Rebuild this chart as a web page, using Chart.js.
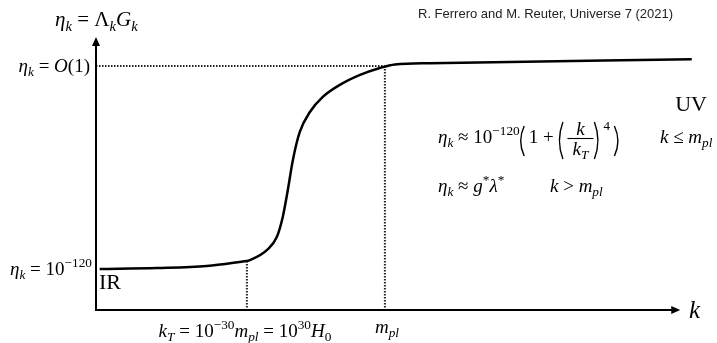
<!DOCTYPE html>
<html><head><meta charset="utf-8">
<script src="https://cdn.jsdelivr.net/npm/chart.js@4"></script>
<style>html,body{margin:0;padding:0;background:#fff}canvas{display:block}</style>
</head><body>
<canvas id="c" width="717" height="343"></canvas>
<script>
// Schematic: x = log10(k/H0), y = log10(eta_k)
const irK     = [-2.0, 10.4, 21.3, 30.0];
const irEta   = [-120.0, -119.4, -118.2, -115.2];
const riseK   = [30.0, 30.7, 34.4, 36.5, 37.8, 38.9, 40.0, 41.5, 43.7, 46.5, 50.2, 54.6, 58.9, 62.2, 69.8, 126.7];
const riseEta = [-115.2, -114.7, -108.7, -101.1, -89.2, -73.3, -55.6, -39.0, -27.2, -18.3, -11.2, -5.3, -1.2, 0.9, 1.6, 4.0];
const kT = 30, mPl = 60, etaIR = -120, etaUV = 0;
const xRange = [-2.8, 128.5];
const yRange = [-144.2, 17.1];
const kAxisEnd = 124.2;
const citation = 'R. Ferrero and M. Reuter, Universe 7 (2021)';

const SERIF = '"Liberation Serif","Times New Roman",serif';
function run(ctx, x, y, parts, size, dry) {
  let cx = x;
  for (const [t, k] of parts) {
    let s = size, yy = y, it = false;
    if (k === 'i') it = true;
    else if (k === '_') { it = true; s = size * 0.7; yy = y + size * 0.22; }
    else if (k === '_r') { s = size * 0.7; yy = y + size * 0.22; }
    else if (k === '^') { s = size * 0.7; yy = y - size * 0.42; }
    ctx.font = (it ? 'italic ' : '') + s + 'px ' + SERIF;
    if (!dry) ctx.fillText(t, cx, yy);
    cx += ctx.measureText(t).width;
  }
  return cx - x;
}
function mathText(ctx, x, y, parts, size, align) {
  const w = run(ctx, 0, 0, parts, size, true);
  const sx = align === 'right' ? x - w : align === 'center' ? x - w / 2 : x;
  run(ctx, sx, y, parts, size, false);
}
function paren(ctx, x, top, bot, open) {
  const w = 3.5;
  ctx.beginPath();
  if (open) { ctx.moveTo(x + w, top); ctx.quadraticCurveTo(x - w, (top + bot) / 2, x + w, bot); }
  else { ctx.moveTo(x, top); ctx.quadraticCurveTo(x + 2 * w, (top + bot) / 2, x, bot); }
  ctx.lineWidth = 1.4; ctx.stroke();
}

const decor = {
  id: 'decor',
  afterDraw(chart) {
    const { ctx, chartArea: a, scales: { x } } = chart;
    ctx.save();
    ctx.strokeStyle = '#000'; ctx.fillStyle = '#000';
    ctx.textAlign = 'left'; ctx.textBaseline = 'alphabetic';
    const x0 = a.left, y0 = a.bottom, xEnd = x.getPixelForValue(kAxisEnd), yTop = a.top;
    ctx.lineWidth = 2;
    ctx.beginPath();
    ctx.moveTo(x0, y0 + 1); ctx.lineTo(x0, yTop + 6);
    ctx.moveTo(x0 - 1, y0); ctx.lineTo(xEnd - 6, y0);
    ctx.stroke();
    ctx.beginPath();
    ctx.moveTo(x0, yTop); ctx.lineTo(x0 - 4, yTop + 9); ctx.lineTo(x0 + 4, yTop + 9); ctx.closePath(); ctx.fill();
    ctx.beginPath();
    ctx.moveTo(xEnd, y0); ctx.lineTo(xEnd - 9, y0 - 4); ctx.lineTo(xEnd - 9, y0 + 4); ctx.closePath(); ctx.fill();

    // labels
    mathText(ctx, 55, 26, [['η','i'],['k','_'],[' = Λ','r'],['k','_'],['G','i'],['k','_']], 21, 'left');
    mathText(ctx, 90, 72, [['η','i'],['k','_'],[' = ','r'],['O','i'],['(1)','r']], 19, 'right');
    mathText(ctx, 92, 275, [['η','i'],['k','_'],[' = 10','r'],['−120','^']], 19, 'right');
    mathText(ctx, 99, 289, [['IR','r']], 22, 'left');
    mathText(ctx, 707, 111, [['UV','r']], 22, 'right');
    mathText(ctx, 245, 337, [['k','i'],['T','_'],[' = 10','r'],['−30','^'],['m','i'],['pl','_'],[' = 10','r'],['30','^'],['H','i'],['0','_r']], 19, 'center');
    mathText(ctx, 387, 333, [['m','i'],['pl','_']], 19, 'center');
    mathText(ctx, 689, 318, [['k','i']], 25, 'left');

    // formula 1
    const S = 19; let b = 143; let cx = 438;
    cx += run(ctx, cx, b, [['η','i'],['k','_'],[' ≈ 10','r'],['−120','^']], S);
    paren(ctx, cx + 1, b - 17, b + 13, true); cx += 9;
    cx += run(ctx, cx, b, [['1 + ','r']], S);
    paren(ctx, cx + 1, b - 21, b + 16, true); cx += 9;
    const fw = 26, barY = b - 4.5;
    ctx.lineWidth = 1.1; ctx.beginPath(); ctx.moveTo(cx, barY); ctx.lineTo(cx + fw, barY); ctx.stroke();
    mathText(ctx, cx + fw / 2, b - 8, [['k','i']], S, 'center');
    mathText(ctx, cx + fw / 2, b + 12, [['k','i'],['T','_']], S, 'center');
    cx += fw + 1;
    paren(ctx, cx, b - 21, b + 16, false); cx += 9;
    ctx.font = '13px ' + SERIF; ctx.fillText('4', cx, b - 13); cx += 11;
    paren(ctx, cx, b - 17, b + 13, false);
    mathText(ctx, 660, b, [['k','i'],[' ≤ ','r'],['m','i'],['pl','_']], S, 'left');
    // formula 2
    b = 192;
    mathText(ctx, 438, b, [['η','i'],['k','_'],[' ≈ ','r'],['g','i'],['*','^'],['λ','i'],['*','^']], S, 'left');
    mathText(ctx, 550, b, [['k','i'],[' > ','r'],['m','i'],['pl','_']], S, 'left');

    ctx.font = '13px "Liberation Sans", Arial, sans-serif';
    ctx.fillStyle = '#222';
    ctx.fillText(citation, 418, 18);
    ctx.restore();
  }
};

const dotted = { borderColor: '#222', borderWidth: 2, borderDash: [1.5, 1.5], pointRadius: 0, fill: false, order: 2 };
new Chart(document.getElementById('c'), {
  type: 'line',
  data: {
    datasets: [
      { data: irK.map((k, i) => ({ x: k, y: irEta[i] })), borderColor: '#000', borderWidth: 2.5, pointRadius: 0, cubicInterpolationMode: 'monotone', order: 0 },
      { data: riseK.map((k, i) => ({ x: k, y: riseEta[i] })), borderColor: '#000', borderWidth: 2.5, pointRadius: 0, cubicInterpolationMode: 'monotone', order: 0 },
      Object.assign({ data: [{ x: xRange[0], y: etaUV }, { x: mPl, y: etaUV }] }, dotted),
      Object.assign({ data: [{ x: kT, y: irEta[irEta.length - 1] }, { x: kT, y: yRange[0] }] }, dotted),
      Object.assign({ data: [{ x: mPl, y: etaUV }, { x: mPl, y: yRange[0] }] }, dotted)
    ]
  },
  options: {
    responsive: false, animation: false, devicePixelRatio: 1,
    layout: { padding: { left: 96, right: 17, top: 37, bottom: 33 } },
    plugins: { legend: { display: false }, tooltip: { enabled: false } },
    scales: {
      x: { type: 'linear', min: xRange[0], max: xRange[1], display: false },
      y: { type: 'linear', min: yRange[0], max: yRange[1], display: false }
    }
  },
  plugins: [decor]
});
</script>
</body></html>
